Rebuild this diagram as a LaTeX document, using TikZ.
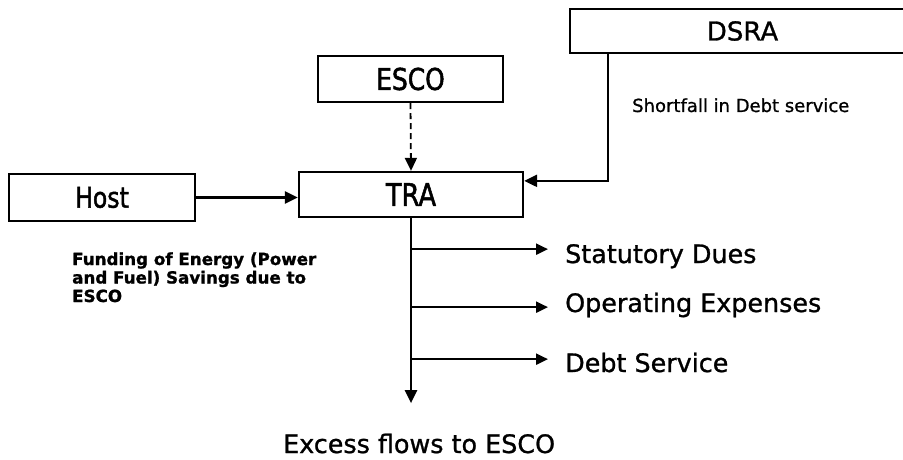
\documentclass[tikz,border=0pt]{standalone}
\usepackage{fontspec}
\setmainfont{DejaVu Sans}
\newfontfamily\narrowsans{DejaVu Sans}[FakeStretch=0.83, FakeBold=1.6]
\newfontfamily\heavysans{DejaVu Sans}[FakeBold=1.0]
\newfontfamily\blacksans{DejaVu Sans Bold}[FakeBold=1.2]
\usetikzlibrary{arrows.meta}

\begin{document}
\begin{tikzpicture}[x=1pt, y=-1pt,
  box/.style={draw, line width=2.3pt, inner sep=0pt},
  boxlabel/.style={font=\narrowsans\fontsize{#1}{#1}\selectfont},
  flow/.style={line width=2.3pt, -{Triangle[length=13pt,width=12pt]}},
  branch/.style={line width=2.3pt, -{Triangle[length=12pt,width=11pt]}, shorten >=17pt},
  outlabel/.style={anchor=base west, inner sep=0pt, font=\heavysans\fontsize{25.4}{28}\selectfont}]
\useasboundingbox (0,0) rectangle (903,460);
\clip (0,0) rectangle (903,460);

% boxes
\node[box, boxlabel=28.4, minimum width=186pt, minimum height=47pt] (host) at (102,197.5) {Host};
\node[box, boxlabel=31, minimum width=224pt, minimum height=45pt] (tra) at (411,194.5) {TRA};
\node[box, boxlabel=30, minimum width=185pt, minimum height=46pt] (esco) at (410.5,79) {ESCO};
\node[box, font=\heavysans\fontsize{26}{26}\selectfont, minimum width=345pt, minimum height=44pt] (dsra) at (742.5,31) {DSRA};

% annotations
\node[anchor=base west, inner sep=0pt, font=\heavysans\fontsize{18}{20}\selectfont] (shortfall) at (632,112) {Shortfall in Debt service};
\node[anchor=base west, inner sep=0pt, align=left, font=\blacksans\fontsize{16.7}{18.5}\selectfont] (funding) at (72,302)
  {Funding of Energy (Power\\and Fuel) Savings due to\\ESCO};

% outflow labels
\node[outlabel] (stat) at (565,263) {Statutory Dues};
\node[outlabel] (opex) at (565,312) {Operating Expenses};
\node[outlabel] (debt) at (565,372) {Debt Service};
\node[outlabel] (excess) at (283,453) {Excess flows to ESCO};

% inflows to the TRA
\draw[flow] (host.east) -- (host.east -| tra.west);
\draw[line width=1.8pt, dash pattern=on 6pt off 4pt, -{Triangle[length=13pt,width=12pt]}] (esco.south) -- (tra.north);
\draw[flow] ([xshift=39pt]dsra.south west) |- ([yshift=-10pt]tra.north east);

% waterfall out of the TRA
\coordinate (b1) at ([yshift=-31pt]tra.south);
\coordinate (b2) at ([yshift=-89pt]tra.south);
\coordinate (b3) at ([yshift=-141pt]tra.south);
\coordinate (tail) at ([yshift=-185pt]tra.south);
\draw[flow] (tra.south) -- (tail);
\draw[branch] (b1) -- (b1 -| stat.west);
\draw[branch] (b2) -- (b2 -| opex.west);
\draw[branch] (b3) -- (b3 -| debt.west);
\end{tikzpicture}
\end{document}
